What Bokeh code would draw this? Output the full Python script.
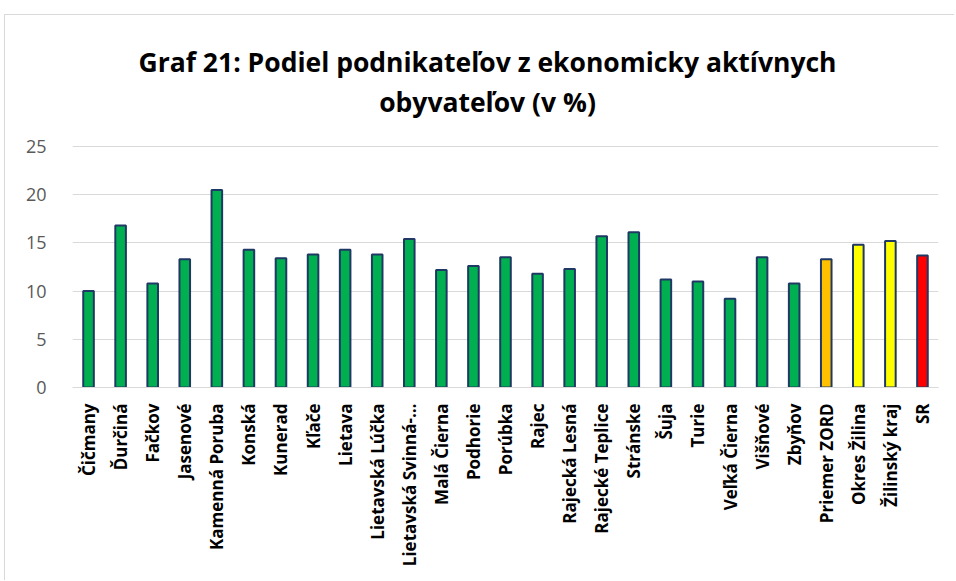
import math
from bokeh.plotting import figure
from bokeh.models import FactorRange, ColumnDataSource, Label, FixedTicker, Range1d
from bokeh.embed import file_html
from bokeh.resources import INLINE

title_line1 = "Graf 21: Podiel podnikateľov z ekonomicky aktívnych"
title_line2 = "obyvateľov (v %)"

categories = [
    "Čičmany", "Ďurčiná", "Fačkov", "Jasenové", "Kamenná Poruba", "Konská",
    "Kunerad", "Kľače", "Lietava", "Lietavská Lúčka", "Lietavská Svinná-…",
    "Malá Čierna", "Podhorie", "Porúbka", "Rajec", "Rajecká Lesná",
    "Rajecké Teplice", "Stránske", "Šuja", "Turie", "Veľká Čierna", "Višňové",
    "Zbyňov", "Priemer ZORD", "Okres Žilina", "Žilinský kraj", "SR",
]
values = [
    10.0, 16.8, 10.8, 13.3, 20.5, 14.3,
    13.4, 13.8, 14.3, 13.8, 15.4,
    12.2, 12.6, 13.5, 11.8, 12.3,
    15.7, 16.1, 11.2, 11.0, 9.2, 13.5,
    10.8, 13.3, 14.8, 15.2, 13.7,
]
kinds = ["obec"] * 23 + ["priemer", "okres", "kraj", "sr"]
y_ticks = [0, 5, 10, 15, 20, 25]

palette = {"obec": "#00B050", "priemer": "#FFC000", "okres": "#FFFF00",
           "kraj": "#FFFF00", "sr": "#FF0000"}

src = ColumnDataSource(dict(cat=categories, val=values,
                            color=[palette[k] for k in kinds]))

# frame spans the whole height above the axis so the title can sit inside it;
# the value axis 0..25 occupies the lower 241 px of the 372 px tall frame
frame_h, axis_h = 372, 241
y_end = max(y_ticks) * frame_h / axis_h

p = figure(width=950, height=566, x_range=FactorRange(*categories, range_padding=0),
           y_range=Range1d(0, y_end), output_backend="svg", toolbar_location=None,
           min_border_left=67, min_border_right=17, min_border_top=0,
           min_border_bottom=566 - frame_h)
p.styles = {"margin-left": "4px", "margin-top": "14px",
            "border-left": "1px solid #d9d9d9", "border-top": "1px solid #d9d9d9"}

p.vbar(x="cat", top="val", width=0.33, source=src, fill_color="color",
       line_color="#1F3864", line_width=2)

font = "Open Sans"
for txt, ys in ((title_line1, 326), (title_line2, 286)):
    p.add_layout(Label(x=415, y=ys, x_units="screen", y_units="screen", text=txt,
                       text_align="center", text_baseline="alphabetic",
                       text_font=font, text_font_size="26.5px",
                       text_font_style="bold", text_color="#000000"))

p.outline_line_color = None
p.xgrid.grid_line_color = None
p.ygrid.grid_line_color = "#d9d9d9"
p.ygrid.grid_line_width = 1

p.yaxis.ticker = FixedTicker(ticks=y_ticks)
p.yaxis.axis_line_color = None
p.yaxis.major_tick_line_color = None
p.yaxis.minor_tick_line_color = None
p.yaxis.major_label_text_font = font
p.yaxis.major_label_text_font_size = "18px"
p.yaxis.major_label_text_color = "#595959"
p.yaxis.major_label_standoff = 20

p.xaxis.axis_line_color = "#d9d9d9"
p.xaxis.axis_line_width = 1
p.xaxis.major_tick_line_color = None
p.xaxis.minor_tick_line_color = None
p.xaxis.major_label_orientation = math.pi / 2
p.xaxis.major_label_text_font = font
p.xaxis.major_label_text_font_size = "17px"
p.xaxis.major_label_text_font_style = "bold"
p.xaxis.major_label_text_color = "#000000"
p.xaxis.major_label_standoff = 10

open("out.html", "w").write(file_html(p, INLINE))
